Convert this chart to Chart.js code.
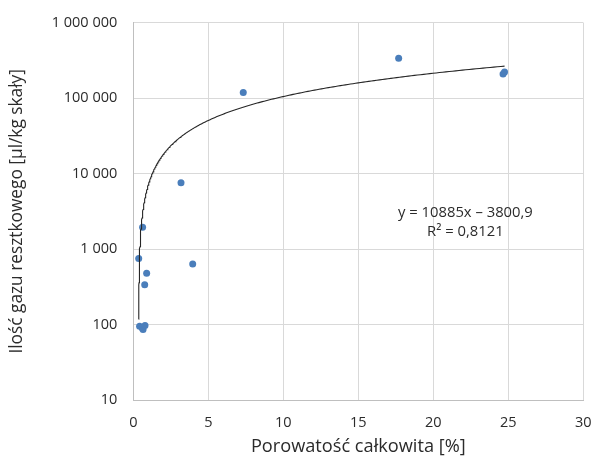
<!DOCTYPE html>
<html>
<head>
<meta charset="utf-8">
<script src="https://cdn.jsdelivr.net/npm/chart.js@4/dist/chart.umd.min.js"></script>
<style>
  html, body { margin: 0; padding: 0; background: #ffffff; }
  #wrap { width: 594px; height: 464px; position: relative; }
</style>
</head>
<body>
<div id="wrap"><canvas id="c" width="594" height="464"></canvas></div>
<script>
// ---- data ----
const porosity    = [0.36, 0.62, 0.89, 0.76, 3.96, 0.42, 0.60, 0.65, 0.78, 3.18, 7.33, 17.69, 24.65, 24.75];
const residualGas = [750, 1950, 477, 337, 634, 95, 90, 86, 97, 7590, 118600, 337000, 209000, 223000];
const yTickValues = [10, 100, 1000, 10000, 100000, 1000000];
const xTickValues = [0, 5, 10, 15, 20, 25, 30];
const trendSlope = 10885;
const trendIntercept = -3800.9;
const trendLabel = ['y = 10885x \u2013 3800,9', 'R\u00B2 = 0,8121'];
const xTitle = 'Porowato\u015B\u0107 ca\u0142kowita [%]';
const yTitle = 'Ilo\u015B\u0107 gazu resztkowego [\u00B5l/kg ska\u0142y]';

// ---- build datasets ----
const points = porosity.map((x, i) => ({ x: x, y: residualGas[i] }));
const xMin = Math.min(...porosity), xMax = Math.max(...porosity);
const trend = [];
for (let i = 0; i <= 300; i++) {
  const t = i / 300;
  const x = xMin + (xMax - xMin) * t * t * t;
  trend.push({ x: x, y: trendSlope * x + trendIntercept });
}

const FONT = '"Open Sans", "Liberation Sans", sans-serif';
const TEXT = '#2b2b2b';

function fmtThousands(v) {
  return String(Math.round(v)).replace(/\B(?=(\d{3})+(?!\d))/g, ' ');
}

const eqPlugin = {
  id: 'eqLabel',
  afterDatasetsDraw(chart) {
    const { ctx, chartArea } = chart;
    const cx = chartArea.left + (chartArea.right - chartArea.left) * 0.738;
    const cy = chartArea.top + (chartArea.bottom - chartArea.top) * 0.504;
    ctx.save();
    ctx.font = '14.8px ' + FONT;
    ctx.fillStyle = TEXT;
    ctx.textAlign = 'center';
    ctx.textBaseline = 'middle';
    ctx.fillText(trendLabel[0], cx, cy);
    ctx.fillText(trendLabel[1], cx, cy + 19);
    ctx.restore();
  }
};

new Chart(document.getElementById('c'), {
  type: 'scatter',
  data: {
    datasets: [
      {
        data: points,
        backgroundColor: '#4a7ebb',
        borderColor: '#4a7ebb',
        pointRadius: 3.5,
        pointBorderWidth: 0,
        order: 2
      },
      {
        type: 'line',
        data: trend,
        borderColor: '#262626',
        borderWidth: 1.1,
        pointRadius: 0,
        fill: false,
        tension: 0,
        order: 1
      }
    ]
  },
  options: {
    responsive: false,
    animation: false,
    devicePixelRatio: 1,
    layout: { padding: { top: 22.7, right: 10.7, bottom: 0, left: 0 } },
    plugins: { legend: { display: false }, tooltip: { enabled: false } },
    scales: {
      x: {
        type: 'linear',
        min: 0, max: 30,
        afterBuildTicks(scale) { scale.ticks = xTickValues.map(v => ({ value: v })); },
        afterFit(scale) { scale.height = 64; scale.paddingLeft = 0; scale.paddingRight = 0; },
        grid: { color: '#d9d9d9', lineWidth: 1, drawTicks: false },
        border: { color: '#bfbfbf', width: 1 },
        ticks: { padding: 14.6, color: TEXT, font: { family: FONT, size: 14.5 } },
        title: { display: true, text: xTitle, color: TEXT, font: { family: FONT, size: 18.2 }, padding: { top: 0, bottom: 6.5 } }
      },
      y: {
        type: 'logarithmic',
        min: 10, max: 1000000,
        afterBuildTicks(scale) { scale.ticks = yTickValues.map(v => ({ value: v })); },
        afterFit(scale) { scale.width = 133.3; scale.paddingTop = 0; scale.paddingBottom = 0; },
        grid: { color: '#d9d9d9', lineWidth: 1, drawTicks: false },
        border: { color: '#bfbfbf', width: 1 },
        ticks: { padding: 16, color: TEXT, font: { family: FONT, size: 14.5 }, callback: (v) => fmtThousands(v) },
        title: { display: true, text: yTitle, color: TEXT, font: { family: FONT, size: 17.3 }, padding: { top: 7, bottom: 0 } }
      }
    }
  },
  plugins: [eqPlugin]
});
</script>
</body>
</html>
